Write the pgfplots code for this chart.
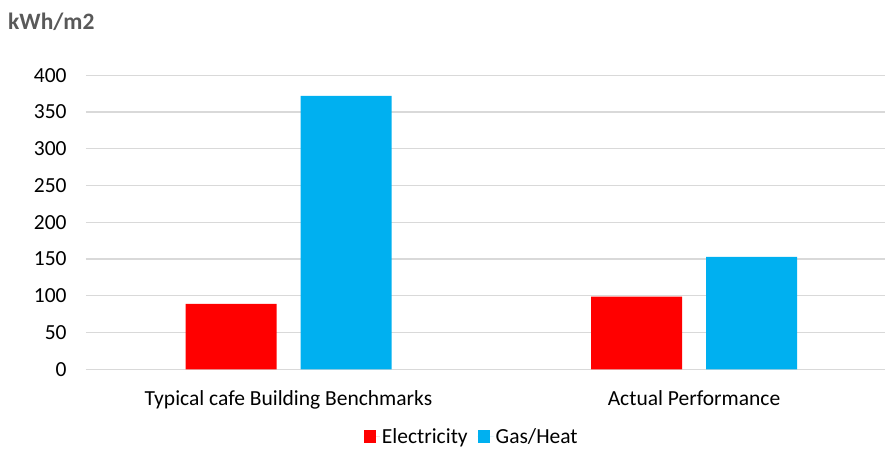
\documentclass[border=0pt]{standalone}
\usepackage{fontspec}
\setmainfont{Carlito}
\usepackage{pgfplots}
\pgfplotsset{compat=1.18}
\definecolor{elec}{HTML}{FF0000}
\definecolor{gas}{HTML}{00B0F0}
\definecolor{gridc}{HTML}{D9D9D9}
\definecolor{titlec}{HTML}{595959}
\begin{document}
\begin{tikzpicture}[x=1pt,y=1pt]
\useasboundingbox (0,0) rectangle (885,449);
\node[anchor=base west, font=\fontsize{23.5}{26}\selectfont\bfseries, text=titlec, inner sep=0pt] at (8,419) {kWh/m2};
\begin{axis}[
  at={(85.75pt,79.7pt)}, anchor=south west,
  scale only axis, width=811pt, height=294pt,
  xmin=-0.5, xmax=1.5, ymin=0, ymax=400,
  ytick={0,50,...,400},
  xtick={0,1},
  xticklabels={Typical cafe Building Benchmarks, Actual Performance},
  ymajorgrids, grid style={gridc, line width=1.3pt},
  axis line style={draw=none},
  major tick style={draw=none},
  /pgf/number format/assume math mode=true,
  ticklabel style={font=\fontsize{21.5}{24}\selectfont, text=black},
  yticklabel style={inner sep=0pt, anchor=east, xshift=-19pt},
  xticklabel style={inner sep=0pt, anchor=base, yshift=-32pt},
  ybar, bar width=91pt,
  legend columns=2,
  legend style={draw=none, at={(0.476,-0.228)}, anchor=center, font=\fontsize{21.5}{24}\selectfont,
    /tikz/every even column/.append style={column sep=8pt}},
  legend image code/.code={\fill[#1] (0pt,-6.5pt) rectangle (12pt,6.5pt); \path (0pt,0pt) -- (16pt,0pt);},
]
\addplot[fill=elec, draw=none, bar shift=-57.5pt] coordinates {(0,89) (1,99)};
\addplot[fill=gas, draw=none, bar shift=57.5pt] coordinates {(0,372) (1,153)};
\legend{Electricity, Gas/Heat}
\end{axis}
\end{tikzpicture}
\end{document}
